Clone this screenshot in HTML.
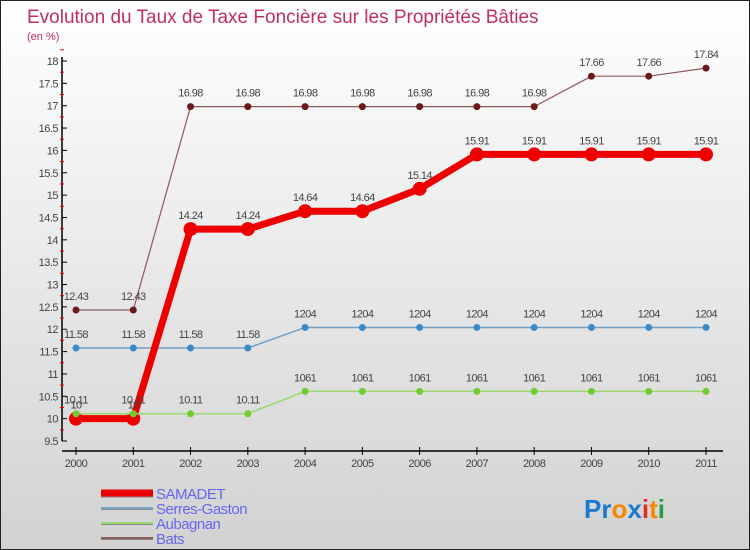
<!DOCTYPE html>
<html><head><meta charset="utf-8"><style>
body{margin:0}
#c{width:750px;height:550px;position:relative;box-sizing:border-box;border:1px solid #222;background:linear-gradient(#ffffff,#d2d2d2);font-family:"Liberation Sans",sans-serif;overflow:hidden}
svg text{font-family:"Liberation Sans",sans-serif}
</style></head><body>
<div id="c">
<svg id="s" width="750" height="550">
<text x="26" y="22" font-size="19" fill="#c0305a">Evolution du Taux de Taxe Foncière sur les Propriétés Bâties</text>
<text x="26" y="39" font-size="11" fill="#c0305a">(en %)</text>
</svg>
</div>
<script>
const years=[2000,2001,2002,2003,2004,2005,2006,2007,2008,2009,2010,2011];
const yTicks=[9.5,10,10.5,11,11.5,12,12.5,13,13.5,14,14.5,15,15.5,16,16.5,17,17.5,18];
const samadet=[10,10,14.24,14.24,14.64,14.64,15.14,15.91,15.91,15.91,15.91,15.91];
const samadetLbl=["10","10","14.24","14.24","14.64","14.64","15.14","15.91","15.91","15.91","15.91","15.91"];
const serres=[11.58,11.58,11.58,11.58,12.04,12.04,12.04,12.04,12.04,12.04,12.04,12.04];
const serresLbl=["11.58","11.58","11.58","11.58","1204","1204","1204","1204","1204","1204","1204","1204"];
const aubagnan=[10.11,10.11,10.11,10.11,10.61,10.61,10.61,10.61,10.61,10.61,10.61,10.61];
const aubagnanLbl=["10.11","10.11","10.11","10.11","1061","1061","1061","1061","1061","1061","1061","1061"];
const bats=[12.43,12.43,16.98,16.98,16.98,16.98,16.98,16.98,16.98,17.66,17.66,17.84];
const batsLbl=["12.43","12.43","16.98","16.98","16.98","16.98","16.98","16.98","16.98","17.66","17.66","17.84"];
const NS="http://www.w3.org/2000/svg";
const svg=document.getElementById('s');
const X=i=>75+i*(630/11);
const Y=v=>440-(v-9.5)*(380/8.5);
function mk(t,a,p){const e=document.createElementNS(NS,t);for(const k in a)e.setAttribute(k,a[k]);(p||svg).appendChild(e);return e;}
// y axis
const ya=mk('g',{});


mk('line',{x1:61,y1:56,x2:61,y2:440,stroke:'#000','stroke-width':1.5},ya);
yTicks.forEach(v=>{
 mk('line',{x1:61,y1:Y(v),x2:66,y2:Y(v),stroke:'#000'},ya);
 mk('line',{x1:59,y1:Y(v+0.25),x2:63,y2:Y(v+0.25),stroke:'#e00'},ya);
 const t=mk('text',{x:57,y:Y(v)+4,'font-size':11,fill:'#444','text-anchor':'end','letter-spacing':'-0.5'},ya);
 
 
 t.textContent=v;
});
// x axis
const xa=mk('g',{});


mk('line',{x1:61,y1:450,x2:722,y2:450,stroke:'#000','stroke-width':1.5},xa);
years.forEach((y,i)=>{
 mk('line',{x1:X(i),y1:446,x2:X(i),y2:454,stroke:'#000'},xa);
 const t=mk('text',{x:X(i),y:466,'font-size':11,fill:'#444','text-anchor':'middle','letter-spacing':'-0.5'},xa);
 
 
 t.textContent=y;
});
function series(name,vals,lbls,color,w,r,dot){
 const g=mk('g',{});
 
 
 mk('polyline',{points:vals.map((v,i)=>X(i)+','+Y(v)).join(' '),fill:'none',stroke:color,'stroke-width':w,'stroke-linejoin':'round'},g);
 vals.forEach((v,i)=>{
  const c=mk('circle',{cx:X(i),cy:Y(v),r:r,fill:dot},g);
  
  
  const t=mk('text',{x:X(i),y:Y(v)-10,'font-size':11,fill:'#444','text-anchor':'middle','letter-spacing':'-0.6'},g);
  
  
  t.textContent=lbls[i];
 });
}
series('bats',bats,batsLbl,'#8a5a5a',1.2,3.5,'#6a1a1a');
series('serres-gaston',serres,serresLbl,'#6fa0c8',1.5,3.5,'#3b8ac8');
series('samadet',samadet,samadetLbl,'#ee0000',7,7,'#ee0000');
series('aubagnan',aubagnan,aubagnanLbl,'#9ad870',1.5,3.5,'#70cc30');
// legend
const legend=[["SAMADET","#ee0000",7],["Serres-Gaston","#7aa8c8",2],["Aubagnan","#9ad870",2],["Bats","#8a5a5a",2]];
legend.forEach((l,i)=>{
 const g=mk('g',{});
 
 
 const y=492+i*15;
 mk('line',{x1:100,y1:y+1,x2:152,y2:y+1,stroke:'#888','stroke-width':l[2]},g);
 mk('line',{x1:100,y1:y,x2:152,y2:y,stroke:l[1],'stroke-width':l[2]},g);
 const t=mk('text',{x:155,y:y+6,'font-size':15,fill:'#6666ee','letter-spacing':'-0.5'},g);
 t.textContent=l[0];
});
// logo
const lg=mk('text',{x:583,y:517,'font-size':26,'font-weight':'bold'});


[["Pr","#1a7ad0"],["o","#f08a00"],["x","#1a7ad0"],["i","#e03020"],["t","#f08a00"],["i","#20a040"]].forEach(p=>{const s=mk('tspan',{fill:p[1]},lg);s.textContent=p[0];});
</script>
</body></html>
